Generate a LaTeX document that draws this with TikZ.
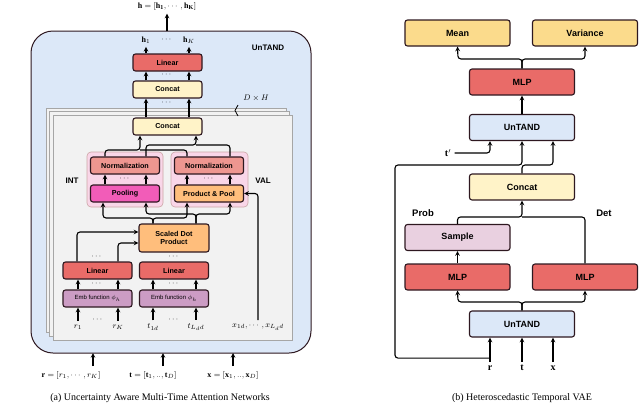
\documentclass[tikz,border=0pt]{standalone}
\usepackage{amsmath}
\usepackage{fontspec}
\setmainfont{Liberation Serif}
\setsansfont{Liberation Sans}
\usetikzlibrary{arrows, positioning, calc, decorations.pathreplacing}
\definecolor{edge}{HTML}{2E1820}
\definecolor{bluefill}{HTML}{DCE8F8}
\definecolor{redfill}{HTML}{E96B68}
\definecolor{creamfill}{HTML}{FFF3C8}
\definecolor{salmonfill}{HTML}{EE9690}
\definecolor{hotpink}{HTML}{F25CB8}
\definecolor{orangefill}{HTML}{FFBE7C}
\definecolor{mauvefill}{HTML}{CC9CC4}
\definecolor{groupfill}{HTML}{F9D6E8}
\definecolor{yellowfill}{HTML}{FBDB8C}
\definecolor{samplefill}{HTML}{E9D0E0}
\begin{document}
\begin{tikzpicture}[x=1pt, y=-1pt,
    every node/.style={align=center},
    box/.style={rectangle, rounded corners=2.5pt, draw=edge, line width=1.1pt, inner sep=0pt, font=\sffamily\bfseries\fontsize{7.2}{8.2}\selectfont},
    small/.style={box, minimum width=69pt, minimum height=17pt},
    big/.style={box, minimum width=105pt, minimum height=26pt, font=\sffamily\bfseries\fontsize{9}{10}\selectfont},
    group/.style={rectangle, rounded corners=4pt, draw=pink!60!gray, fill=groupfill, line width=0.6pt},
    sheet/.style={draw=gray!70, fill=gray!10, line width=0.8pt},
    lbl/.style={font=\sffamily\bfseries\fontsize{8}{9}\selectfont},
    arrow/.style={line width=1.1pt,->,>=stealth, rounded corners=3pt},
    line/.style={line width=1.1pt, rounded corners=3pt}
]
\useasboundingbox (0,0) rectangle (640,407);

% UnTAND frame
\draw[draw=edge, fill=bluefill, line width=1pt, rounded corners=22pt] (31,31) rectangle (311,353);
\node[lbl] (untand_lbl) at (268,48) {UnTAND};
\node (h_out) at (167,6) {\footnotesize $\mathbf{h}=[\mathbf{h_1},\cdots,\mathbf{h_K}]$};
\draw[arrow] (167,31) -- (h_out);

% top stack
\node (lin_top) [small, fill=redfill] at (167.5,62.5) {Linear};
\node (cat_top) [small, fill=creamfill] at (167.5,89.5) {Concat};
\node (h1) at (146,40) {\footnotesize $\mathbf{h}_1$};
\node (hK) at (189,40) {\footnotesize $\mathbf{h}_K$};
\node at (167,40) {\footnotesize $\cdots$};
\draw[arrow] (lin_top.north -| h1) -- (h1);
\draw[arrow] (lin_top.north -| hK) -- (hK);
\draw[arrow] (cat_top.north -| h1) -- (lin_top.south -| h1);
\draw[arrow] (cat_top.north -| hK) -- (lin_top.south -| hK);
\node at (167,75) {\footnotesize $\cdots$};

% D x H sheets
\draw[sheet] (46,108) rectangle (286,332);
\draw[sheet] (49,111) rectangle (289,336);
\draw[sheet] (53,115) rectangle (292,340);
\draw[thick, decorate, decoration={brace, amplitude=3pt}] (238,116) -- (238,105);
\node (dh) at (256,98) {\footnotesize $D\times H$};

% inner heads
\node (cat_in) [small, fill=creamfill] at (167.5,126.5) {Concat};
\draw[arrow] (cat_in.north -| h1) -- (cat_top.south -| h1);
\draw[arrow] (cat_in.north -| hK) -- (cat_top.south -| hK);
\node at (167,103) {\footnotesize $\cdots$};

\draw[group] (87,152) rectangle (163,207);
\draw[group] (171,152) rectangle (248,207);
\node (norm_int) [small, fill=salmonfill] at (125,165.5) {Normalization};
\node (pool) [small, fill=hotpink] at (125,193.5) {Pooling};
\node (norm_val) [small, fill=salmonfill] at (209,165.5) {Normalization};
\node (prodpool) [small, fill=orangefill] at (209,193.5) {Product \& Pool};
\node[lbl] (int_lbl) at (72,181) {INT};
\node[lbl] (val_lbl) at (263,181) {VAL};
\node at (125,179) {\footnotesize $\cdots$};
\node at (209,179) {\footnotesize $\cdots$};
\foreach \a in {105,146} \draw[arrow] (pool.north -| \a,0) -- (norm_int.south -| \a,0);
\foreach \a in {187,230} \draw[arrow] (prodpool.north -| \a,0) -- (norm_val.south -| \a,0);
\draw[arrow] (norm_int.north -| 105,0) |- (140,150) -- (cat_in.south -| 140,0);
\draw[line] (norm_val.north -| 187,0) |- (140,150);
\draw[arrow] (norm_int.north -| 146,0) |- (196,145) -- (cat_in.south -| 196,0);
\draw[line] (norm_val.north -| 230,0) |- (196,145);

% attention
\node (sdp) [box, fill=orangefill, minimum width=70pt, minimum height=28pt] at (174,238) {Scaled Dot\\Product};
\node (lin_r) [small, fill=redfill] at (97.5,270.5) {Linear};
\node (lin_t) [small, fill=redfill] at (174,270.5) {Linear};
\node (emb_r) [small, fill=mauvefill, font=\sffamily\fontsize{6}{7}\selectfont] at (97.5,298.5) {Emb function $\phi_h$};
\node (emb_t) [small, fill=mauvefill, font=\sffamily\fontsize{6}{7}\selectfont] at (174,298.5) {Emb function $\phi_h$};
\foreach \y in {257,284} {
  \node at (97,\y) {\footnotesize $\cdots$};
  \node at (174,\y) {\footnotesize $\cdots$};
}
\draw[arrow] (lin_r.north -| 77,0) |- (sdp.west |- 0,232);
\draw[arrow] (lin_r.north -| 118,0) |- (sdp.west |- 0,243);
\draw[arrow] (sdp.north -| 153,0) |- (103,218) -- (pool.south -| 103,0);
\draw[arrow] (sdp.north -| 153,0) |- (187,218) -- (prodpool.south -| 187,0);
\draw[arrow] (sdp.north -| 196,0) |- (146,214) -- (pool.south -| 146,0);
\draw[arrow] (sdp.north -| 196,0) |- (230,214) -- (prodpool.south -| 230,0);

% embeddings inputs
\node (r1) at (78,327) {\footnotesize $r_1$};
\node (rK) at (118,327) {\footnotesize $r_K$};
\node (t1) at (153,327) {\footnotesize $t_{1d}$};
\node (tL) at (196,327) {\footnotesize $t_{L_d d}$};
\node (xs) at (258,327) {\footnotesize $x_{1d},\cdots,x_{L_d d}$};
\node at (98,320) {\footnotesize $\cdots$};
\node at (174,320) {\footnotesize $\cdots$};
\draw[arrow] (r1.north) -- (emb_r.south -| r1);
\draw[arrow] (rK.north) -- (emb_r.south -| rK);
\draw[arrow] (t1.north) -- (emb_t.south -| t1);
\draw[arrow] (tL.north) -- (emb_t.south -| tL);
\foreach \a in {r1,rK} \draw[arrow] (emb_r.north -| \a) -- (lin_r.south -| \a);
\foreach \a in {t1,tL} \draw[arrow] (emb_t.north -| \a) -- (lin_t.south -| \a);
\draw[arrow] (xs.north) |- (prodpool.east);

% model inputs
\node (r_in) at (71,375) {\footnotesize $\mathbf{r}=[r_1,\cdots,r_K]$};
\node (t_in) at (153,375) {\footnotesize $\mathbf{t}=[\mathbf{t}_1,..,\mathbf{t}_D]$};
\node (x_in) at (233,375) {\footnotesize $\mathbf{x}=[\mathbf{x}_1,..,\mathbf{x}_D]$};
\draw[arrow] (93,366) -- (93,353);
\draw[arrow] (163,366) -- (163,353);
\draw[arrow] (233,366) -- (233,353);
\node (cap_a) at (160,398) {(a) Uncertainty Aware Multi-Time Attention Networks};

% Heteroscedastic Temporal VAE
\node (mean) [big, fill=yellowfill] at (457.5,33) {Mean};
\node (var) [big, fill=yellowfill] at (585,33) {Variance};
\node (mlp_top) [big, fill=redfill] at (522,82) {MLP};
\node (unt_top) [big, fill=bluefill] at (522,127.5) {UnTAND};
\node (cat) [big, fill=creamfill] at (522,187) {Concat};
\node (sample) [big, fill=samplefill] at (457.5,237.5) {Sample};
\node (mlp_l) [big, fill=redfill] at (457.5,277) {MLP};
\node (mlp_r) [big, fill=redfill] at (585,277) {MLP};
\node (unt_bot) [big, fill=bluefill] at (522,324) {UnTAND};
\node[lbl, font=\sffamily\bfseries\fontsize{9.5}{10}\selectfont] (prob) at (423,213) {Prob};
\node[lbl, font=\sffamily\bfseries\fontsize{9.5}{10}\selectfont] (det) at (604,213) {Det};
\node (r) at (490,368) {$\mathbf{r}$};
\node (t) at (522,368) {$\mathbf{t}$};
\node (x) at (553,368) {$\mathbf{x}$};
\node (tp) at (448,153) {$\mathbf{t}'$};

\draw[arrow] (r.north) -- (unt_bot.south -| r);
\draw[arrow] (t.north) -- (unt_bot.south -| t);
\draw[arrow] (x.north) -- (unt_bot.south -| x);
\draw[arrow] (unt_bot.north) |- (458,302) -- (mlp_l.south);
\draw[arrow] (unt_bot.north) |- (585,302) -- (mlp_r.south);
\draw[arrow] (mlp_l.north) -- (sample.south);
\draw[arrow] (sample.north) |- (522,217) -- (cat.south);
\draw[line] (mlp_r.north) |- (522,217);
\draw[arrow] (r.north) ++(0,-4) -| (395,165) -| (unt_top.south -| t);
\draw[arrow] (cat.north) |- (553,165) -- (unt_top.south -| x);
\draw[arrow] (tp.east) -| (unt_top.south -| r);
\draw[arrow] (unt_top.north) -- (mlp_top.south);
\draw[arrow] (mlp_top.north) |- (458,59) -- (mean.south);
\draw[arrow] (mlp_top.north) |- (585,59) -- (var.south);
\node (cap_b) at (522,398) {(b) Heteroscedastic Temporal VAE};
\end{tikzpicture}
\end{document}
